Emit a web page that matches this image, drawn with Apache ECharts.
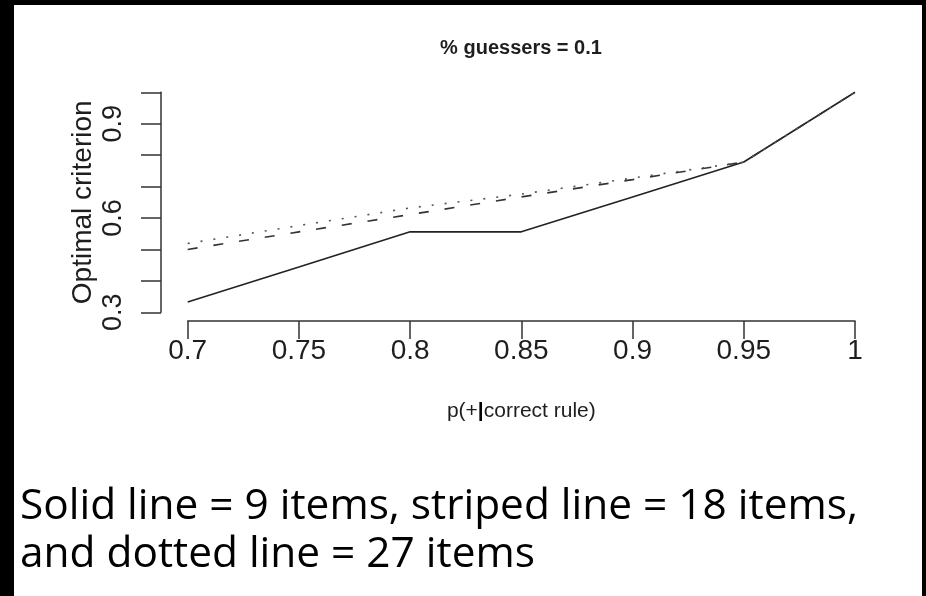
<!DOCTYPE html>
<html>
<head>
<meta charset="utf-8">
<script src="https://cdn.jsdelivr.net/npm/echarts@6/dist/echarts.min.js"></script>
<style>
  html, body { margin: 0; padding: 0; background: #fff; }
  #chart { width: 926px; height: 596px; }
</style>
</head>
<body>
<div id="chart"></div>
<script>
// Datos
const probCorrect = [0.7, 0.75, 0.8, 0.85, 0.9, 0.95, 1.0];
const solid9 = [0.333, 0.444, 0.556, 0.556, 0.667, 0.778, 1.0];
const dashed18 = [0.5, 0.556, 0.611, 0.667, 0.722, 0.778, 1.0];
const dotted27 = [0.519, 0.576, 0.632, 0.676, 0.727, 0.778, 1.0];

const xTicks = [0.7, 0.75, 0.8, 0.85, 0.9, 0.95, 1];
const yTicks = [0.3, 0.4, 0.5, 0.6, 0.7, 0.8, 0.9, 1.0];
const yTickLabels = [0.3, 0.6, 0.9];

const titleText = '% guessers = 0.1';
const yName = 'Optimal criterion';
const noteLines = [
    'Solid line = 9 items, striped line = 18 items,',
    'and dotted line = 27 items'
];

function pairs(xs, ys) {
    return xs.map((x, i) => [x, ys[i]]);
}

const axisColor = '#333';
const textColor = '#1e1e1e';
const baseFont = '"Liberation Sans", Arial, sans-serif';
const noteFont = '42.4px "Open Sans", Lato, sans-serif';

const chart = echarts.init(document.getElementById('chart'));

chart.setOption({
    backgroundColor: '#fff',
    animation: false,
    title: {
        text: titleText,
        left: 521,
        top: 38,
        textAlign: 'center',
        padding: 0,
        textStyle: { fontFamily: baseFont, fontSize: 20, fontWeight: 'bold', color: textColor }
    },
    grid: [
        // zona de datos (con el 4% de margen de R)
        { left: 161, right: 44.3, top: 83.4, bottom: 275 },
        // eje x visible, solo entre los ticks
        { left: 187.7, right: 71, top: 320, bottom: 275 },
        // eje y visible, solo entre los ticks
        { left: 161, width: 1, top: 92.3, bottom: 283.7 }
    ],
    xAxis: [
        { gridIndex: 0, type: 'value', min: 0.688, max: 1.012, show: false },
        {
            gridIndex: 1, type: 'value', min: xTicks[0], max: xTicks[xTicks.length - 1], interval: 0.05,
            position: 'bottom',
            axisLine: { show: true, lineStyle: { color: axisColor, width: 1.5 } },
            axisTick: { show: true, length: 18, lineStyle: { color: axisColor, width: 1.5 } },
            axisLabel: { margin: 16, fontFamily: baseFont, fontSize: 28, color: textColor, showMinLabel: true, showMaxLabel: true },
            splitLine: { show: false },
            name: '{p|p(+}{bar||}{p|correct rule)}',
            nameLocation: 'middle',
            nameGap: 80,
            nameTextStyle: {
                rich: {
                    p: { fontFamily: baseFont, fontSize: 21, color: textColor },
                    bar: { fontFamily: baseFont, fontSize: 21, fontWeight: 'bold', color: '#000' }
                }
            }
        },
        { gridIndex: 2, type: 'value', show: false }
    ],
    yAxis: [
        { gridIndex: 0, type: 'value', min: 0.2725, max: 1.028, show: false },
        { gridIndex: 1, type: 'value', show: false },
        {
            gridIndex: 2, type: 'value', min: yTicks[0], max: yTicks[yTicks.length - 1], interval: 0.1,
            position: 'left',
            axisLine: { show: true, lineStyle: { color: axisColor, width: 1.5 } },
            axisTick: { show: true, length: 20, lineStyle: { color: axisColor, width: 1.5 } },
            axisLabel: {
                margin: 34, rotate: 90, fontFamily: baseFont, fontSize: 27, color: textColor,
                formatter: v => yTickLabels.some(t => Math.abs(t - v) < 1e-6) ? String(+v.toFixed(1)) : ''
            },
            splitLine: { show: false },
            name: yName,
            nameLocation: 'middle',
            nameRotate: 90,
            nameGap: 64,
            nameTextStyle: { fontFamily: baseFont, fontSize: 28, color: textColor }
        }
    ],
    series: [
        {
            name: '9 items', type: 'line', xAxisIndex: 0, yAxisIndex: 0,
            data: pairs(probCorrect, solid9), symbol: 'none',
            lineStyle: { color: '#222', width: 1.6, type: 'solid' }
        },
        {
            name: '18 items', type: 'line', xAxisIndex: 0, yAxisIndex: 0,
            data: pairs(probCorrect, dashed18), symbol: 'none',
            lineStyle: { color: '#333', width: 1.6, type: [10, 16] }
        },
        {
            name: '27 items', type: 'line', xAxisIndex: 0, yAxisIndex: 0,
            data: pairs(probCorrect, dotted27), symbol: 'none',
            lineStyle: { color: '#555', width: 1.6, type: [2, 11] }
        }
    ],
    graphic: [
        // marco negro de la captura
        { type: 'rect', shape: { x: 0, y: 0, width: 14, height: 596 }, style: { fill: '#000' }, silent: true },
        { type: 'rect', shape: { x: 0, y: 0, width: 926, height: 5 }, style: { fill: '#000' }, silent: true },
        { type: 'rect', shape: { x: 922, y: 0, width: 4, height: 596 }, style: { fill: '#000' }, silent: true },
        // nota al pie
        {
            type: 'text', left: 20, top: 486,
            style: { text: noteLines[0], font: noteFont, fill: '#000' }
        },
        {
            type: 'text', left: 20, top: 534,
            style: { text: noteLines[1], font: noteFont, fill: '#000' }
        }
    ]
});
</script>
</body>
</html>
